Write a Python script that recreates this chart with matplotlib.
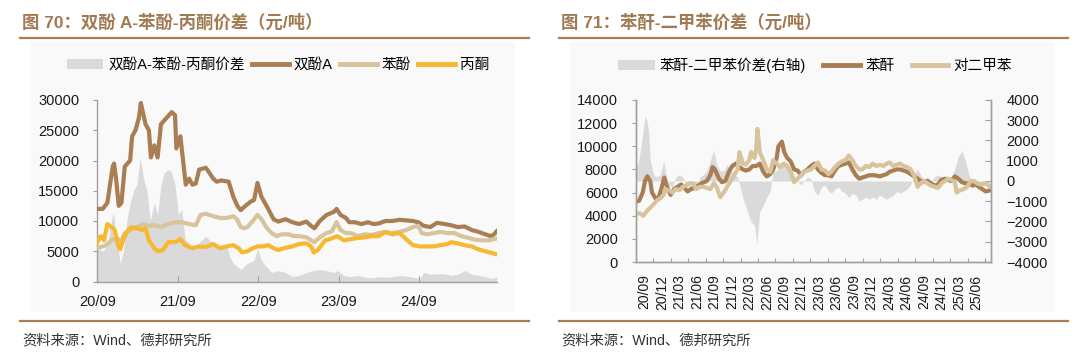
import matplotlib
matplotlib.use("Agg")
import matplotlib.pyplot as plt
from matplotlib.lines import Line2D
from matplotlib.patches import Rectangle, Patch

plt.rcParams['font.family'] = ['Liberation Sans', 'Noto Sans CJK SC', 'DejaVu Sans']

# ---------------- Left chart data (months since 2020-09, yuan/t in thousands) -------------
left_xticks = [0, 12, 24, 36, 48]
left_xlabels = ['20/09', '21/09', '22/09', '23/09', '24/09']

bpa_t = [0, 0.8, 1.5, 2.3, 2.5, 2.8, 3.2, 3.6, 4.1, 4.9, 5.2, 5.7, 6.2, 6.5, 7.2, 7.7, 8.0, 8.5, 9.0, 9.5,
         10.3, 11.1, 11.6, 11.8, 12.4, 12.9, 13.2, 13.7, 14.2, 14.7, 15.2, 16.2, 16.7, 17.3, 17.8, 18.5,
         19.6, 20.3, 20.9, 21.4, 22.1, 22.9, 23.4, 23.9, 24.5, 25.0, 25.5, 26.3, 27.0, 28.1, 29.1, 30.1,
         31.2, 31.9, 32.4, 33.2, 34.2, 35.3, 35.7, 36.3, 37.1, 37.6, 38.4, 39.4, 40.4, 41.2, 42.0, 43.0,
         44.0, 45.1, 46.1, 47.1, 47.9, 48.7, 49.7, 50.7, 51.8, 52.8, 53.8, 54.8, 55.9, 56.9, 57.9, 58.7,
         59.2, 59.6]
bpa_v = [12.0, 12.0, 13.0, 19.0, 19.5, 17.0, 12.5, 13.0, 19.0, 20.0, 24.0, 25.0, 27.0, 29.5, 26.0, 25.0,
         20.5, 22.5, 20.5, 26.0, 27.0, 28.0, 27.5, 22.0, 24.0, 19.0, 16.0, 17.0, 16.0, 16.2, 18.5, 18.8,
         18.0, 17.0, 16.5, 16.7, 16.5, 14.0, 12.5, 11.8, 12.5, 13.2, 13.5, 16.3, 14.0, 13.0, 12.0, 10.3,
         9.9, 10.3, 9.8, 9.5, 9.9, 9.2, 8.8, 10.0, 11.0, 11.5, 12.0, 11.0, 10.5, 9.8, 9.8, 9.5, 9.8, 9.5,
         9.6, 10.0, 10.0, 10.2, 10.1, 10.0, 9.8, 9.2, 9.0, 9.7, 9.5, 9.3, 9.0, 9.1, 8.5, 8.2, 7.8, 7.5,
         7.8, 8.3]

phenol_t = [0, 0.8, 1.3, 1.8, 2.3, 3.1, 3.6, 4.1, 4.9, 5.9, 6.9, 7.7, 8.5, 9.5, 10.6, 11.6, 12.6, 13.7,
            14.7, 15.4, 16.2, 17.3, 18.3, 19.3, 20.3, 20.9, 21.4, 21.9, 22.4, 23.2, 23.9, 24.5, 25.2, 26.0,
            26.8, 27.5, 28.6, 29.3, 30.1, 31.2, 31.9, 32.4, 33.2, 34.2, 35.0, 35.7, 36.3, 37.1, 37.8, 38.9,
            39.9, 40.9, 42.0, 43.0, 44.0, 45.1, 46.1, 47.1, 47.9, 48.4, 49.2, 50.2, 51.2, 52.3, 53.3, 54.3,
            55.4, 56.4, 57.4, 58.4, 59.6]
phenol_v = [5.5, 5.8, 6.0, 6.5, 7.0, 7.0, 6.8, 8.0, 8.5, 9.0, 9.5, 9.2, 9.3, 9.0, 9.5, 9.8, 9.8, 9.5, 9.3,
            11.0, 11.2, 10.8, 10.5, 10.5, 10.8, 10.2, 9.0, 8.8, 9.0, 10.0, 11.0, 10.3, 9.0, 8.0, 7.5, 7.8,
            7.8, 7.5, 7.5, 7.3, 6.8, 6.5, 7.3, 8.0, 8.3, 9.8, 8.5, 8.0, 8.0, 7.5, 7.8, 7.7, 8.0, 8.2, 8.0,
            8.2, 8.5, 9.0, 9.2, 8.0, 7.8, 8.0, 8.2, 8.0, 8.0, 7.5, 7.2, 6.9, 6.8, 6.8, 7.1]

acetone_t = [0, 0.5, 1.0, 1.5, 2.1, 2.6, 3.1, 3.4, 3.9, 4.6, 5.1, 5.9, 6.7, 7.2, 7.7, 8.5, 9.0, 9.8, 10.6,
             11.6, 12.4, 13.1, 14.2, 15.2, 16.2, 17.3, 18.3, 19.3, 20.3, 21.1, 21.6, 22.4, 23.2, 23.9, 24.7,
             25.5, 26.3, 27.0, 27.8, 29.1, 30.1, 31.2, 31.9, 32.3, 32.9, 34.0, 34.7, 35.8, 36.8, 37.8, 38.9,
             39.9, 40.9, 42.0, 43.0, 44.0, 45.1, 45.6, 46.3, 47.1, 48.2, 49.2, 50.2, 51.2, 52.3, 52.8, 53.8,
             54.8, 55.9, 56.9, 57.9, 59.6]
acetone_v = [6.5, 7.5, 6.8, 9.5, 9.0, 8.5, 6.0, 5.3, 7.0, 8.5, 9.0, 8.8, 8.5, 8.8, 6.8, 5.5, 5.0, 5.2, 6.5,
             6.5, 7.0, 6.0, 5.5, 5.8, 5.7, 6.2, 5.5, 5.8, 6.0, 5.5, 4.8, 5.0, 5.5, 5.8, 5.8, 6.0, 5.5, 5.2,
             5.5, 5.8, 6.2, 6.3, 5.8, 4.8, 5.2, 6.8, 7.0, 7.5, 6.8, 7.0, 7.2, 7.3, 7.5, 7.5, 8.2, 7.8, 8.0,
             7.5, 6.8, 6.0, 5.8, 5.8, 5.8, 6.0, 6.2, 6.5, 6.3, 6.0, 5.8, 5.3, 5.0, 4.5]

bpa_spread_t = [0, 0.8, 1.5, 2.1, 2.4, 2.8, 3.4, 3.9, 4.4, 4.9, 5.4, 5.9, 6.4, 6.9, 7.4, 7.9, 8.5, 9.0, 9.5,
                10.0, 10.6, 11.1, 11.6, 12.1, 12.6, 13.1, 13.6, 14.2, 14.7, 15.2, 16.2, 17.0, 17.8, 18.5,
                19.3, 19.8, 20.3, 20.9, 21.4, 22.4, 23.4, 23.9, 24.5, 25.2, 26.0, 27.0, 28.1, 29.1, 30.1,
                31.2, 32.2, 33.2, 34.2, 35.3, 35.8, 36.8, 37.8, 38.9, 39.9, 40.9, 42.0, 43.0, 44.0, 45.1,
                46.1, 47.1, 48.2, 48.7, 49.7, 50.7, 51.8, 52.8, 53.8, 54.8, 55.9, 56.9, 57.9, 58.9, 59.6]
bpa_spread_v = [5.5, 5.0, 6.0, 10.0, 11.5, 8.0, 3.0, 5.0, 10.0, 13.0, 15.0, 16.0, 20.5, 17.0, 15.0, 10.0,
                13.0, 11.0, 16.0, 18.0, 18.5, 18.0, 16.0, 11.0, 12.0, 7.0, 6.5, 5.5, 5.2, 6.5, 7.5, 6.5,
                5.5, 6.0, 6.0, 4.0, 3.0, 2.5, 2.0, 3.0, 3.5, 5.5, 3.5, 2.5, 1.5, 1.8, 1.5, 0.8, 1.0, 1.5,
                1.8, 2.0, 1.8, 1.5, 1.8, 1.0, 0.8, 1.0, 0.7, 0.6, 0.8, 0.7, 0.8, 1.0, 0.9, 0.7, 0.5, 1.5,
                1.2, 1.3, 1.3, 1.0, 1.2, 1.8, 1.2, 1.0, 0.8, 0.5, 0.8]

# ---------------- Right chart data (months since 2020-09) -------------
right_labels = ['20/09', '20/12', '21/03', '21/06', '21/09', '21/12', '22/03', '22/06', '22/09', '22/12',
                '23/03', '23/06', '23/09', '23/12', '24/03', '24/06', '24/09', '24/12', '25/03', '25/06']

pa_t = [0, 0.6, 1.2, 1.6, 2.0, 2.5, 2.8, 3.4, 3.9, 4.5, 4.9, 5.4, 6.0, 6.6, 7.2, 7.8, 8.4, 8.9, 9.5, 10.4,
        11.3, 12.2, 12.8, 13.2, 13.6, 14.2, 14.8, 15.4, 16.0, 16.6, 17.2, 17.8, 18.4, 18.9, 19.5, 20.1,
        20.7, 21.3, 21.9, 22.5, 23.1, 23.6, 24.2, 24.5, 25.1, 25.5, 26.0, 26.6, 27.2, 27.8, 28.4, 28.9,
        29.5, 30.1, 30.7, 31.3, 31.9, 32.5, 33.1, 33.6, 34.2, 34.8, 35.4, 36.0, 36.6, 37.2, 37.8, 38.4,
        38.9, 39.5, 40.1, 41.0, 41.9, 42.5, 43.1, 43.6, 44.2, 44.8, 45.4, 46.0, 46.6, 47.2, 47.8, 48.4,
        48.9, 49.5, 50.1, 50.7, 51.3, 51.9, 52.5, 53.1, 53.6, 54.2, 54.8, 55.4, 56.0, 56.6, 57.2, 57.8,
        58.4, 58.9, 59.5, 60.1, 60.9]
pa_v = [5.2, 5.3, 6.0, 7.0, 7.4, 7.0, 6.0, 5.5, 5.5, 6.5, 7.3, 6.5, 5.8, 6.3, 6.5, 6.7, 6.4, 6.1, 6.3, 6.5,
        6.8, 7.0, 7.5, 8.2, 8.0, 7.3, 6.9, 7.0, 7.8, 8.3, 8.5, 8.2, 8.0, 7.9, 8.0, 8.3, 8.3, 8.5, 7.8,
        7.4, 7.6, 8.0, 9.0, 10.0, 10.4, 9.5, 9.0, 8.7, 8.0, 7.9, 7.5, 7.8, 8.0, 8.3, 8.5, 8.0, 7.7, 7.5,
        7.5, 7.4, 7.9, 8.3, 8.4, 8.5, 8.6, 8.0, 7.5, 7.2, 7.3, 7.4, 7.5, 7.5, 7.4, 7.5, 7.6, 7.8, 7.9,
        8.0, 8.0, 7.9, 7.8, 7.6, 7.4, 7.2, 7.0, 6.9, 7.0, 6.8, 6.6, 6.7, 7.1, 7.2, 7.1, 7.0, 7.4, 7.2,
        6.9, 6.8, 6.8, 6.6, 6.7, 6.5, 6.3, 6.1, 6.2]

px_t = [0, 0.7, 1.3, 1.9, 2.5, 3.1, 3.6, 4.2, 4.8, 5.1, 5.7, 6.3, 6.9, 7.5, 8.1, 8.6, 9.2, 9.8, 10.4, 11.0,
        11.6, 12.2, 12.8, 13.4, 13.9, 14.5, 15.1, 15.7, 16.3, 16.9, 17.5, 17.8, 18.4, 18.9, 19.5, 19.8,
        20.4, 20.7, 20.9, 21.3, 21.9, 22.5, 23.1, 23.6, 24.2, 24.8, 25.4, 26.0, 26.6, 27.2, 27.8, 28.4,
        28.9, 29.5, 30.1, 30.7, 31.3, 31.9, 32.5, 33.1, 33.6, 34.2, 34.8, 35.4, 36.0, 36.6, 37.2, 37.8,
        38.4, 38.9, 39.5, 40.1, 40.7, 41.3, 41.9, 42.5, 43.1, 43.6, 44.2, 44.8, 45.4, 46.0, 46.6, 47.2,
        47.8, 48.4, 48.9, 49.5, 50.1, 50.7, 51.3, 51.9, 52.5, 53.1, 53.6, 54.2, 54.8, 55.1, 55.7, 56.3,
        56.9, 57.5, 58.1, 58.6, 59.2, 60.1, 60.9]
px_v = [4.2, 4.2, 4.0, 4.4, 4.7, 5.0, 5.3, 5.5, 5.8, 6.3, 6.2, 6.0, 6.3, 6.2, 6.5, 6.6, 6.8, 6.8, 6.3, 6.5,
        6.5, 6.4, 6.3, 6.8, 6.5, 5.6, 6.0, 6.5, 7.0, 7.5, 8.0, 9.5, 8.5, 8.4, 8.8, 9.5, 9.0, 9.8, 11.5,
        9.5, 8.8, 8.0, 7.8, 8.8, 8.5, 8.2, 8.5, 8.3, 7.8, 6.9, 7.2, 7.5, 7.8, 7.9, 8.0, 8.3, 8.6, 8.0,
        7.9, 7.6, 7.8, 8.2, 8.5, 8.7, 8.8, 9.2, 8.8, 8.3, 8.0, 8.0, 8.3, 8.2, 8.5, 8.3, 8.4, 8.3, 8.5,
        8.6, 8.3, 8.4, 8.5, 8.3, 8.2, 8.0, 7.5, 6.5, 6.8, 7.0, 6.8, 6.6, 6.5, 6.4, 6.8, 7.0, 7.2, 7.1,
        6.9, 6.0, 6.2, 6.3, 6.5, 7.0, 7.0, 6.8, 6.7, 6.8, 6.5]

pa_spread_t = [0, 0.4, 0.8, 1.3, 1.6, 1.9, 2.2, 2.5, 3.1, 3.6, 4.2, 4.8, 5.1, 5.7, 6.3, 6.9, 7.5, 8.1, 8.6,
               9.2, 9.8, 10.4, 11.0, 11.6, 12.2, 12.8, 13.4, 13.9, 14.5, 15.1, 15.7, 16.3, 16.9, 17.5,
               18.1, 18.6, 19.2, 19.8, 20.4, 20.8, 21.3, 21.9, 22.5, 23.1, 23.6, 24.2, 24.8, 25.4, 26.0,
               26.6, 27.2, 27.8, 28.4, 28.9, 29.5, 30.1, 30.7, 31.3, 31.9, 32.5, 33.1, 33.6, 34.2, 34.8,
               35.4, 36.0, 36.6, 37.2, 37.8, 38.4, 38.9, 39.5, 40.1, 40.7, 41.3, 41.9, 42.5, 43.1, 43.6,
               44.2, 44.8, 45.4, 46.0, 46.6, 47.2, 47.8, 48.4, 48.9, 49.5, 50.1, 50.7, 51.3, 51.9, 52.5,
               53.1, 53.6, 54.2, 54.8, 55.4, 56.0, 56.6, 57.2, 57.8, 58.4, 58.9, 59.5, 60.1, 60.9]
pa_spread_v = [1.0, 0.8, 1.5, 2.5, 3.2, 3.0, 2.5, 1.0, 0.3, 0.2, 0.3, 1.0, 0.5, -0.2, -0.3, 0.2, 0.3, 0.2,
               -0.2, -0.3, -0.5, -0.3, 0.2, 0.3, 0.5, 1.0, 1.5, 0.8, 0.5, 0.5, 0.8, 0.6, 0.3, 0.2, -0.5,
               -1.0, -1.5, -2.0, -2.2, -3.1, -1.5, -1.2, -0.8, -0.5, 0.5, 0.5, 0.8, 1.0, 0.8, 0.5, 0.3, 0.0,
               -0.2, 0.0, 0.2, 0.1, -0.5, -0.7, -0.3, -0.2, -0.5, -0.6, -0.4, -0.3, -0.5, -0.6, -0.8, -0.6,
               -0.7, -1.0, -0.9, -0.8, -0.9, -0.8, -0.9, -0.7, -0.8, -0.9, -0.8, -0.7, -0.5, -0.6, -0.5,
               -0.4, -0.2, 0.3, 0.6, 0.3, 0.1, 0.2, 0.0, 0.2, 0.3, 0.2, 0.1, 0.0, 0.2, 0.6, 1.2, 1.5, 1.0,
               0.3, 0.0, -0.2, 0.0, -0.1, -0.2, 0.0]

# ---------------- Style -------------
W, H = 1080, 357
BROWN = '#a97e55'
TAN = '#d8c49c'
YELLOW = '#f6b830'
AREA = '#dadada'
TITLE_C = '#a07a52'
SPINE = '#a0a0a0'
TXT = '#1a1a1a'
LW = 3.0


def fx(px):
    return px / W


def fy(py):
    return 1 - py / H


fig = plt.figure(figsize=(W / 100, H / 100), dpi=100)

# panel backgrounds
fig.add_artist(Rectangle((fx(31), fy(312)), fx(515) - fx(31), fy(42) - fy(312),
                         transform=fig.transFigure, color='#f9f9f9', zorder=-10, lw=0))
fig.add_artist(Rectangle((fx(570), fy(312)), fx(1055) - fx(570), fy(42) - fy(312),
                         transform=fig.transFigure, color='#f9f9f9', zorder=-10, lw=0))

# titles & rules
fig.text(fx(22), fy(22), '图 70：双酚 A-苯酚-丙酮价差（元/吨）', fontsize=12.5, fontweight='bold',
         color=TITLE_C, va='center', ha='left')
fig.text(fx(561), fy(22), '图 71：苯酐-二甲苯价差（元/吨）', fontsize=12.5, fontweight='bold',
         color=TITLE_C, va='center', ha='left')
for x0, x1 in [(20, 529), (559, 1068)]:
    for yy in (38, 321):
        fig.add_artist(Line2D([fx(x0), fx(x1)], [fy(yy), fy(yy)], color=BROWN, lw=1.6,
                              transform=fig.transFigure))
fig.text(fx(22), fy(341), '资料来源：Wind、德邦研究所', fontsize=10.3, color='#333333', va='center', ha='left')
fig.text(fx(561), fy(341), '资料来源：Wind、德邦研究所', fontsize=10.3, color='#333333', va='center', ha='left')

# ---------------- Left chart -------------
axL = fig.add_axes([fx(97.3), fy(281.5), fx(496.7) - fx(97.3), fy(100) - fy(281.5)])
axL.patch.set_visible(False)
axL.fill_between(bpa_spread_t, 0, [v * 1000 for v in bpa_spread_v], color=AREA, lw=0, zorder=1)
axL.plot(bpa_t, [v * 1000 for v in bpa_v], color=BROWN, lw=LW, zorder=3)
axL.plot(phenol_t, [v * 1000 for v in phenol_v], color=TAN, lw=LW, zorder=3)
axL.plot(acetone_t, [v * 1000 for v in acetone_v], color=YELLOW, lw=LW, zorder=3)
axL.set_xlim(0, 59.6)
axL.set_ylim(0, 30000)
axL.set_yticks(range(0, 30001, 5000))
axL.set_xticks(left_xticks)
axL.set_xticklabels(left_xlabels)
for s in ('top', 'right'):
    axL.spines[s].set_visible(False)
for s in ('left', 'bottom'):
    axL.spines[s].set_color(SPINE)
    axL.spines[s].set_linewidth(1.0)
axL.tick_params(axis='y', direction='out', length=3, pad=10, labelsize=10.5, colors=SPINE, labelcolor=TXT)
axL.tick_params(axis='x', direction='in', length=4, pad=10, labelsize=10.5, colors=SPINE, labelcolor=TXT)

handlesL = [Patch(facecolor=AREA, edgecolor='none'),
            Line2D([], [], color=BROWN, lw=3.5),
            Line2D([], [], color=TAN, lw=3.5),
            Line2D([], [], color=YELLOW, lw=3.5)]
labelsL = ['双酚A-苯酚-丙酮价差', '双酚A', '苯酚', '丙酮']
fig.legend(handlesL, labelsL, loc='center', bbox_to_anchor=(fx(278), fy(65)), ncol=4, frameon=False,
           fontsize=10.5, handlelength=2.5, handleheight=0.7, handletextpad=0.35, columnspacing=0.5,
           borderpad=0, borderaxespad=0)

# ---------------- Right chart -------------
axR = fig.add_axes([fx(635.7), fy(262), fx(991) - fx(635.7), fy(100) - fy(262)])
axR2 = axR.twinx()
axR.set_zorder(axR2.get_zorder() + 1)
axR.patch.set_visible(False)
axR2.patch.set_visible(False)
axR2.fill_between(pa_spread_t, 0, [v * 1000 for v in pa_spread_v], color=AREA, lw=0)
axR.plot(pa_t, [v * 1000 for v in pa_v], color=BROWN, lw=LW)
axR.plot(px_t, [v * 1000 for v in px_v], color=TAN, lw=LW)
axR.set_xlim(0, 61)
axR.set_ylim(0, 14000)
axR.set_yticks(range(0, 14001, 2000))
axR2.set_ylim(-4000, 4000)
axR2.set_yticks(range(-4000, 4001, 1000))
axR.set_xticks([3 * i for i in range(21)])
axR.set_xticklabels([])
axR.set_xticks([3 * i + 1.5 for i in range(20)], minor=True)
axR.set_xticklabels(right_labels, minor=True, rotation=90)
for a in (axR, axR2):
    a.spines['top'].set_visible(False)
    for s in ('left', 'right', 'bottom'):
        a.spines[s].set_color(SPINE)
        a.spines[s].set_linewidth(1.0)
axR.tick_params(axis='y', direction='out', length=3, pad=10, labelsize=10.5, colors=SPINE, labelcolor=TXT)
axR2.tick_params(axis='y', direction='in', length=4, pad=11, labelsize=10.5, colors=SPINE, labelcolor=TXT)
axR.tick_params(axis='x', which='major', direction='in', length=3, colors=SPINE)
axR.tick_params(axis='x', which='minor', length=0, pad=9, labelsize=10, labelcolor=TXT)

handlesR = [Patch(facecolor=AREA, edgecolor='none'),
            Line2D([], [], color=BROWN, lw=3.5),
            Line2D([], [], color=TAN, lw=3.5)]
labelsR = ['苯酐-二甲苯价差(右轴)', '苯酐', '对二甲苯']
fig.legend(handlesR, labelsR, loc='center', bbox_to_anchor=(fx(815), fy(65)), ncol=3, frameon=False,
           fontsize=10.5, handlelength=2.5, handleheight=0.7, handletextpad=0.35, columnspacing=1.2,
           borderpad=0, borderaxespad=0)

fig.savefig('out.png', dpi=100)
